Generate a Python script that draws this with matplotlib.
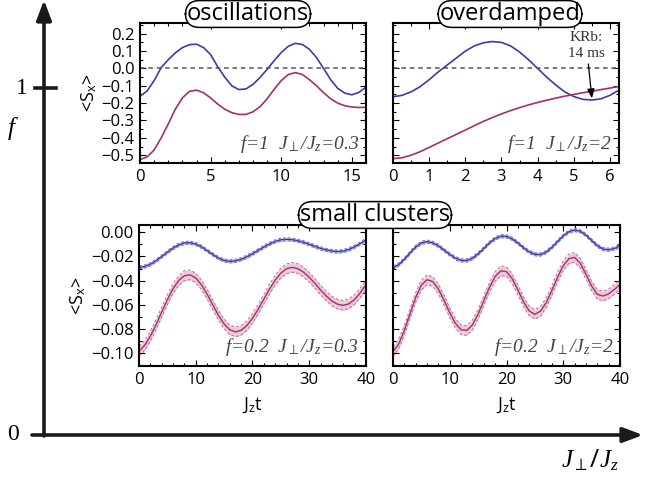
import numpy as np
import matplotlib
matplotlib.use("Agg")
import matplotlib.pyplot as plt
from matplotlib.ticker import MultipleLocator

plt.rcParams['font.family'] = ['Open Sans', 'DejaVu Sans']
plt.rcParams['mathtext.fontset'] = 'custom'
plt.rcParams['mathtext.rm'] = 'Open Sans'
plt.rcParams['mathtext.sf'] = 'Open Sans'
plt.rcParams['mathtext.it'] = 'Liberation Serif:italic'

BLUE = '#3c3ca6'
RED = '#a0306e'
BLUE_BAND = '#c9c9ee'
RED_BAND = '#eccadb'
BLUE_EDGE = '#6f6fc4'
RED_EDGE = '#c0708f'
GRAY = '#444444'

# ---- top left: oscillations (f=1, J_perp/J_z=0.3)
t_osc = [0, 0.5, 1, 1.5, 2, 2.5, 3, 3.5, 4, 4.5, 5, 5.5, 6, 6.5, 7, 7.5, 8,
         8.5, 9, 9.5, 10, 10.5, 11, 11.5, 12, 12.5, 13, 13.5, 14, 14.5, 15, 15.5, 16]
osc_blue = [-0.160, -0.130, -0.070, 0.005, 0.050, 0.090, 0.120, 0.137, 0.140, 0.120,
            0.080, 0.010, -0.050, -0.100, -0.122, -0.118, -0.092, -0.052, -0.005,
            0.045, 0.092, 0.128, 0.145, 0.138, 0.110, 0.062, 0.000, -0.065, -0.115,
            -0.142, -0.152, -0.138, -0.108]
osc_red = [-0.525, -0.510, -0.470, -0.400, -0.320, -0.235, -0.170, -0.132, -0.125,
           -0.140, -0.170, -0.205, -0.235, -0.255, -0.265, -0.265, -0.250, -0.220,
           -0.175, -0.120, -0.070, -0.035, -0.024, -0.035, -0.065, -0.100, -0.140,
           -0.175, -0.200, -0.215, -0.222, -0.225, -0.224]

# ---- top right: overdamped (f=1, J_perp/J_z=2)
t_od = [0, 0.25, 0.5, 0.75, 1, 1.25, 1.5, 1.75, 2, 2.25, 2.5, 2.75, 3, 3.25, 3.5,
        3.75, 4, 4.25, 4.5, 4.75, 5, 5.25, 5.5, 5.75, 6, 6.25]
od_blue = [-0.163, -0.155, -0.135, -0.105, -0.065, -0.020, 0.020, 0.060, 0.100,
           0.130, 0.148, 0.155, 0.150, 0.130, 0.095, 0.050, 0.000, -0.050, -0.095,
           -0.135, -0.162, -0.178, -0.182, -0.175, -0.155, -0.125]
od_red = [-0.520, -0.515, -0.500, -0.480, -0.455, -0.430, -0.405, -0.380, -0.355,
          -0.330, -0.305, -0.283, -0.262, -0.243, -0.226, -0.210, -0.196, -0.183,
          -0.171, -0.160, -0.150, -0.140, -0.131, -0.122, -0.113, -0.104]

# ---- bottom: small clusters (f=0.2)
t_sc = list(range(0, 41))
sc1_blue = [-0.0290, -0.0283, -0.0264, -0.0235, -0.0200, -0.0164, -0.0130, -0.0104,
            -0.0088, -0.0086, -0.0097, -0.0120, -0.0151, -0.0184, -0.0213, -0.0233,
            -0.0240, -0.0236, -0.0223, -0.0202, -0.0177, -0.0149, -0.0121, -0.0096,
            -0.0075, -0.0062, -0.0058, -0.0061, -0.0070, -0.0083, -0.0099, -0.0116,
            -0.0133, -0.0146, -0.0155, -0.0159, -0.0155, -0.0141, -0.0119, -0.0092,
            -0.0063]
sc1_red = [-0.0983, -0.0934, -0.0858, -0.0763, -0.0659, -0.0557, -0.0466, -0.0398,
           -0.0359, -0.0352, -0.0378, -0.0434, -0.0512, -0.0600, -0.0686, -0.0758,
           -0.0806, -0.0823, -0.0810, -0.0771, -0.0711, -0.0636, -0.0552, -0.0469,
           -0.0395, -0.0337, -0.0301, -0.0290, -0.0301, -0.0330, -0.0372, -0.0423,
           -0.0477, -0.0527, -0.0568, -0.0595, -0.0604, -0.0591, -0.0555, -0.0500,
           -0.0432]
sc2_blue = [-0.0292, -0.0267, -0.0223, -0.0170, -0.0121, -0.0087, -0.0077, -0.0087,
            -0.0112, -0.0147, -0.0183, -0.0214, -0.0232, -0.0233, -0.0214, -0.0178,
            -0.0133, -0.0087, -0.0051, -0.0032, -0.0034, -0.0054, -0.0088, -0.0128,
            -0.0162, -0.0182, -0.0184, -0.0163, -0.0124, -0.0076, -0.0029, 0.0005,
            0.0019, 0.0009, -0.0023, -0.0068, -0.0110, -0.0139, -0.0144, -0.0134,
            -0.0112]
sc2_red = [-0.0987, -0.0923, -0.0810, -0.0672, -0.0538, -0.0437, -0.0392, -0.0407,
           -0.0469, -0.0562, -0.0665, -0.0753, -0.0806, -0.0811, -0.0765, -0.0676,
           -0.0565, -0.0454, -0.0365, -0.0319, -0.0325, -0.0383, -0.0476, -0.0575,
           -0.0650, -0.0678, -0.0652, -0.0581, -0.0480, -0.0371, -0.0276, -0.0218,
           -0.0208, -0.0256, -0.0346, -0.0444, -0.0513, -0.0527, -0.0509, -0.0473,
           -0.0432]
err_blue = 0.0013
err_red = 0.0040

W, H = 649, 480


def px_axes(fig, x0, y0, x1, y1):
    return fig.add_axes([x0 / W, 1 - y1 / H, (x1 - x0) / W, (y1 - y0) / H])


def style(ax):
    ax.tick_params(which='both', direction='in', top=True, right=True,
                   labelsize=12, pad=4, length=4, width=0.8)
    ax.tick_params(which='minor', length=2)
    for s in ax.spines.values():
        s.set_linewidth(1.5)


def note(ax, s):
    ax.text(0.97, 0.06, s, transform=ax.transAxes, ha='right', va='bottom',
            fontsize=14, color=GRAY, family='Liberation Serif', style='italic')


def band(ax, t, y, err, line_c, edge_c, band_c):
    t = np.array(t)
    y = np.array(y)
    ax.fill_between(t, y - err, y + err, color=band_c, lw=0)
    ax.plot(t, y - err, color=edge_c, lw=0.7, ls=(0, (3, 2)))
    ax.plot(t, y + err, color=edge_c, lw=0.7, ls=(0, (3, 2)))
    ax.plot(t, y, color=line_c, lw=1.0)


box = dict(boxstyle='round,pad=0.06,rounding_size=0.6', fc='white', ec='black', lw=1.1)


def panel_title(fig, x, y, s):
    fig.text(x / W, 1 - y / H, s, fontsize=17, ha='center', va='center',
             bbox=box, zorder=10)


fig = plt.figure(figsize=(6.49, 4.80), dpi=100)

# background frame with the f / J_perp/J_z arrows
bg = fig.add_axes([0, 0, 1, 1])
bg.set_xlim(0, W)
bg.set_ylim(H, 0)
bg.axis('off')
bg.annotate('', xy=(44, 0), xytext=(44, 436),
            arrowprops=dict(arrowstyle='-|>,head_length=1.2,head_width=0.45',
                            lw=2.6, color='#1a1a1a', shrinkA=0, shrinkB=0))
bg.annotate('', xy=(643, 435), xytext=(32, 435),
            arrowprops=dict(arrowstyle='-|>,head_length=1.2,head_width=0.45',
                            lw=2.6, color='#1a1a1a', shrinkA=0, shrinkB=0))
bg.plot([35, 56], [88, 88], color='#1a1a1a', lw=2.6)
bg.text(22, 88, '1', fontsize=17, family='Liberation Serif', ha='center', va='center')
bg.text(13, 435, '0', fontsize=17, family='Liberation Serif', ha='center', va='center')
bg.text(11, 128, 'f', fontsize=18, family='Liberation Serif', style='italic',
        ha='center', va='center')
bg.text(590, 461, r'$J_\perp/J_z$', fontsize=18, ha='center', va='center')

# top left
ax1 = px_axes(fig, 140, 23, 366, 163)
ax1.plot(t_osc, osc_blue, color=BLUE, lw=1.2)
ax1.plot(t_osc, osc_red, color=RED, lw=1.2)
ax1.axhline(0, color='#555555', lw=1.1, ls=(0, (3, 2.5)))
ax1.set_xlim(0, 16)
ax1.set_ylim(-0.545, 0.262)
ax1.set_yticks([0.2, 0.1, 0.0, -0.1, -0.2, -0.3, -0.4, -0.5])
ax1.set_xticks([0, 5, 10, 15])
ax1.xaxis.set_minor_locator(MultipleLocator(1))
ax1.yaxis.set_minor_locator(MultipleLocator(0.05))
ax1.set_ylabel('<S$_{\\rm x}$>', fontsize=13, labelpad=2)
style(ax1)
note(ax1, r'f=1  $J_\perp$/$J_z$=0.3')

# top right
ax2 = px_axes(fig, 393, 23, 619, 163)
ax2.plot(t_od, od_blue, color=BLUE, lw=1.2)
ax2.plot(t_od, od_red, color=RED, lw=1.2)
ax2.axhline(0, color='#555555', lw=1.1, ls=(0, (3, 2.5)))
ax2.set_xlim(0, 6.25)
ax2.set_ylim(-0.545, 0.262)
ax2.set_yticks([0.2, 0.1, 0.0, -0.1, -0.2, -0.3, -0.4, -0.5])
ax2.set_yticklabels([])
ax2.set_xticks([0, 1, 2, 3, 4, 5, 6])
ax2.xaxis.set_minor_locator(MultipleLocator(0.5))
ax2.yaxis.set_minor_locator(MultipleLocator(0.05))
style(ax2)
note(ax2, r'f=1  $J_\perp$/$J_z$=2')
ax2.annotate('KRb:\n14 ms', xy=(t_od[22], od_blue[22] + 0.01), xytext=(5.35, 0.05),
             ha='center', va='bottom', fontsize=11, family='Liberation Serif',
             color='#333333', linespacing=1.3,
             arrowprops=dict(arrowstyle='-|>,head_length=0.5,head_width=0.2',
                             lw=0.9, color='black', shrinkA=1, shrinkB=0))

# bottom left
ax3 = px_axes(fig, 139, 225, 366, 366)
band(ax3, t_sc, sc1_blue, err_blue, BLUE, BLUE_EDGE, BLUE_BAND)
band(ax3, t_sc, sc1_red, err_red, RED, RED_EDGE, RED_BAND)
ax3.set_xlim(0, 40)
ax3.set_ylim(-0.1105, 0.006)
ax3.set_yticks([0.0, -0.02, -0.04, -0.06, -0.08, -0.10])
ax3.set_yticklabels(['0.00', '\u22120.02', '\u22120.04', '\u22120.06', '\u22120.08', '\u22120.10'])
ax3.set_xticks([0, 10, 20, 30, 40])
ax3.xaxis.set_minor_locator(MultipleLocator(2))
ax3.yaxis.set_minor_locator(MultipleLocator(0.01))
ax3.set_ylabel('<S$_{\\rm x}$>', fontsize=13, labelpad=2)
ax3.set_xlabel('J$_{\\rm z}$t', fontsize=13, labelpad=6)
style(ax3)
note(ax3, r'f=0.2  $J_\perp$/$J_z$=0.3')

# bottom right
ax4 = px_axes(fig, 393, 225, 620, 366)
band(ax4, t_sc, sc2_blue, err_blue, BLUE, BLUE_EDGE, BLUE_BAND)
band(ax4, t_sc, sc2_red, err_red, RED, RED_EDGE, RED_BAND)
ax4.set_xlim(0, 40)
ax4.set_ylim(-0.1105, 0.006)
ax4.set_yticks([0.0, -0.02, -0.04, -0.06, -0.08, -0.10])
ax4.set_yticklabels([])
ax4.set_xticks([0, 10, 20, 30, 40])
ax4.xaxis.set_minor_locator(MultipleLocator(2))
ax4.yaxis.set_minor_locator(MultipleLocator(0.01))
ax4.set_xlabel('J$_{\\rm z}$t', fontsize=13, labelpad=6)
style(ax4)
note(ax4, r'f=0.2  $J_\perp$/$J_z$=2')

panel_title(fig, 248, 14, 'oscillations')
panel_title(fig, 510, 14, 'overdamped')
panel_title(fig, 375, 215, 'small clusters')

fig.savefig('out.png', dpi=100)
